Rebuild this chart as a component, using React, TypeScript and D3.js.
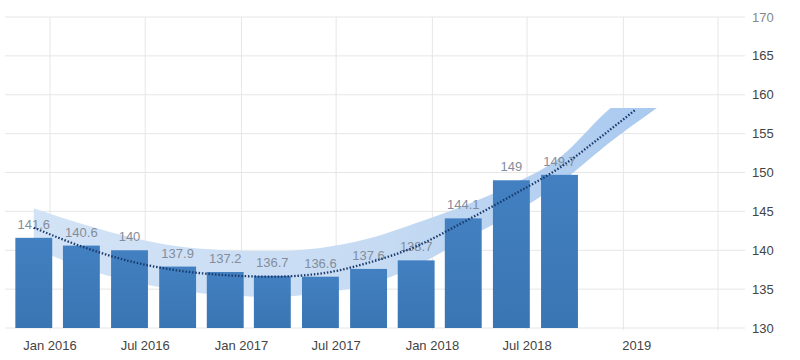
import React from "react";
import * as d3 from "d3";

// quarterly values (bars)
const barDates = [
  "2015-12-01", "2016-03-01", "2016-06-01", "2016-09-01",
  "2016-12-01", "2017-03-01", "2017-06-01", "2017-09-01",
  "2017-12-01", "2018-03-01", "2018-06-01", "2018-09-01",
];
const barValues = [141.6, 140.6, 140, 137.9, 137.2, 136.7, 136.6, 137.6, 138.7, 144.1, 149, 149.7];

// dotted trend line
const trendDates = [...barDates, "2018-12-01", "2019-01-23"];
const trendValues = [142.9, 140.5, 138.6, 137.4, 136.8, 136.6, 137.0, 138.4, 140.5, 143.6, 147.0, 150.6, 155.2, 158.0];

// forecast band
const bandDates = [...barDates, "2018-12-01", "2019-03-06"];
const bandUpper = [145.4, 143.4, 141.7, 140.5, 140.0, 139.9, 140.3, 141.5, 143.5, 145.7, 148.4, 151.9, 157.9, 163];
const bandLower = [140.3, 137.8, 136.0, 134.9, 134.2, 134.0, 134.5, 135.6, 138.0, 141.3, 144.6, 148.6, 153.6, 158.3];
const BAND_CAP = 158.3;

const xTickLabels = ["Jan 2016", "Jul 2016", "Jan 2017", "Jul 2017", "Jan 2018", "Jul 2018", "2019", ""];
const yTicks = [130, 135, 140, 145, 150, 155, 160, 165, 170];

const W = 800;
const H = 360;
const FONT = "'Liberation Sans', Arial, sans-serif";

const parse = d3.timeParse("%Y-%m-%d");

export default function App() {
  const x = d3.scaleTime()
    .domain([new Date(2016, 0, 1), new Date(2019, 6, 1)])
    .range([50, 718]);
  const y = d3.scaleLinear().domain([130, 170]).range([328, 17]);

  const plotLeft = 5;
  const plotRight = 745;

  const xTicks = x.ticks(d3.timeMonth.every(6)!);

  const bars = barDates.map((d, i) => ({ date: parse(d)!, value: barValues[i] }));
  const step = x(bars[1].date) - x(bars[0].date);
  const bw = step * 0.775;

  const trend = trendDates.map((d, i) => [x(parse(d)!), y(trendValues[i])] as [number, number]);
  const band = bandDates.map((d, i) => ({ x: x(parse(d)!), hi: y(bandUpper[i]), lo: y(bandLower[i]) }));

  const line = d3.line<[number, number]>().curve(d3.curveMonotoneX)(trend) || "";
  const area = d3.area<{ x: number; hi: number; lo: number }>()
    .x(d => d.x).y0(d => d.lo).y1(d => d.hi)
    .curve(d3.curveMonotoneX)(band) || "";

  return (
    <svg width={W} height={H} style={{ position: "absolute", left: 0, top: 0, background: "#fff" }} fontFamily={FONT}>
      <defs>
        <linearGradient id="bandGrad" x1="0" x2="1" y1="0" y2="0">
          <stop offset="0%" stopColor="#d3e3f6" />
          <stop offset="55%" stopColor="#c6dbf3" />
          <stop offset="100%" stopColor="#a9c9ef" />
        </linearGradient>
        <linearGradient id="barGrad" x1="0" x2="0" y1="0" y2="1">
          <stop offset="0%" stopColor="#4280c1" />
          <stop offset="100%" stopColor="#3a75b3" />
        </linearGradient>
        <clipPath id="capClip">
          <rect x={0} y={y(BAND_CAP)} width={W} height={H} />
        </clipPath>
      </defs>

      {/* grid */}
      {yTicks.map(t => (
        <line key={"h" + t} x1={plotLeft} x2={plotRight} y1={y(t)} y2={y(t)} stroke="#e6e6e6" strokeWidth={1} />
      ))}
      {xTicks.map((t, i) => (
        <line key={"v" + i} x1={x(t)} x2={x(t)} y1={y(170)} y2={y(130) + 2} stroke="#e6e6e6" strokeWidth={1} />
      ))}

      {/* band */}
      <path d={area} fill="url(#bandGrad)" clipPath="url(#capClip)" />

      {/* bars */}
      {bars.map((b, i) => (
        <rect key={"b" + i} x={x(b.date) - bw / 2} y={y(b.value)} width={bw} height={y(130) - y(b.value)} fill="url(#barGrad)" />
      ))}

      {/* value labels */}
      {bars.map((b, i) => (
        <text key={"l" + i} x={x(b.date)} y={y(b.value) - 9} textAnchor="middle" fontSize={13} fill="#838d9b">
          {String(b.value)}
        </text>
      ))}

      {/* trend */}
      <path d={line} fill="none" stroke="#1a3a6c" strokeWidth={2.3} strokeDasharray="1.5 1.8" clipPath="url(#capClip)" />

      {/* y axis labels */}
      {yTicks.map(t => (
        <text key={"yl" + t} x={752} y={y(t) + 4.5} fontSize={13} fill={t === 170 ? "#888" : "#444"}>
          {t}
        </text>
      ))}

      {/* x axis labels */}
      {xTicks.map((t, i) => {
        const label = xTickLabels[i] || "";
        const yearOnly = !label.includes(" ");
        return (
          <text key={"xl" + i} x={x(t) - (yearOnly ? 1 : 0)} y={350} fontSize={13} fill="#444"
            textAnchor={yearOnly ? "start" : "middle"}>
            {label}
          </text>
        );
      })}
    </svg>
  );
}
